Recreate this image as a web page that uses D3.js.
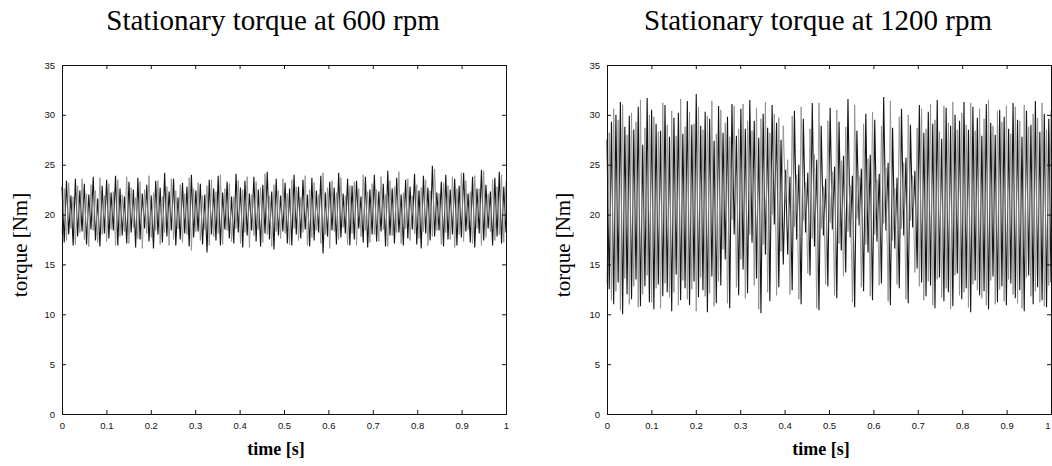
<!DOCTYPE html>
<html>
<head>
<meta charset="utf-8">
<script src="https://cdn.jsdelivr.net/npm/d3@7"></script>
<style>
  body { margin: 0; background: #fff; }
  .tick text { font-family: "Liberation Sans", Arial, sans-serif; font-size: 9.5px; fill: #111; }
  .tick line { stroke: #111; }
</style>
</head>
<body>
<div id="chart"></div>
<script>
// torque samples, 600 rpm (dark trace)
const torque600 = [
  22.8,17.2,23.4,18.0,21.9,16.9,23.6,17.8,22.4,18.3,23.1,17.0,22.0,18.5,23.8,17.4,21.6,16.8,22.9,18.1,
  23.5,17.6,22.2,18.4,23.9,16.9,22.6,17.9,21.8,17.1,23.3,18.2,22.5,16.7,23.7,17.5,22.1,18.6,23.0,17.3,
  21.9,16.6,23.4,18.0,22.7,17.2,24.2,17.8,22.3,18.4,23.6,16.9,21.7,17.5,23.2,18.1,22.8,16.8,24.0,17.7,
  22.4,18.3,23.1,17.0,22.0,16.2,23.5,18.0,22.6,17.4,23.9,16.9,22.2,18.5,23.3,17.6,21.8,17.1,24.1,18.2,
  22.7,16.7,23.4,17.9,22.1,18.4,23.8,17.3,22.5,16.8,23.0,18.1,24.3,17.5,22.3,16.5,23.6,17.9,21.9,18.3,
  23.2,17.1,22.6,16.9,24.0,18.0,22.8,17.6,23.5,18.5,22.0,16.8,23.7,17.4,22.4,18.2,23.9,16.1,22.2,17.8,
  23.3,18.4,22.7,17.0,24.2,17.7,22.1,18.1,23.6,16.9,22.9,17.5,23.4,18.6,21.8,17.2,23.8,16.7,22.5,18.0,
  24.0,17.3,22.3,18.3,23.1,16.8,24.4,17.9,22.6,17.1,23.7,18.2,22.0,16.9,23.5,17.6,22.8,18.5,24.1,17.0,
  22.4,16.6,23.9,18.1,22.7,17.4,24.9,17.8,22.2,18.4,23.3,16.8,24.0,17.5,22.5,18.0,23.6,16.9,22.9,17.7,
  24.2,18.3,22.1,17.2,23.8,16.7,22.6,18.1,24.5,17.4,23.0,18.6,22.3,16.9,23.7,17.8,24.3,17.1,22.8,18.2
];

// 600 rpm (grey trace)
const torque600b = [
  18.1,22.6,17.4,23.2,18.6,21.8,17.0,22.9,18.2,23.6,17.5,22.1,16.8,23.0,18.4,22.4,17.2,23.7,18.0,21.9,
  17.3,23.1,18.5,22.3,16.9,23.5,17.8,22.0,18.3,23.8,17.1,22.7,18.7,21.7,17.6,23.3,16.6,22.5,18.1,23.9,
  17.7,22.2,18.4,23.4,17.0,21.8,18.2,22.8,16.9,23.6,17.5,22.4,18.6,23.0,17.2,22.1,18.0,23.7,16.4,22.6,
  18.3,23.2,17.4,21.9,18.5,22.9,16.9,23.5,17.8,22.3,18.1,24.0,17.0,22.6,18.4,23.1,17.3,21.8,18.6,23.4,
  17.1,22.5,18.2,23.8,16.7,22.0,17.9,23.3,18.5,22.7,17.2,24.1,18.0,21.9,16.8,23.0,18.3,22.4,17.6,23.6,
  18.1,22.1,17.0,23.5,18.6,22.8,17.4,21.7,18.2,23.9,16.9,22.5,17.7,23.2,18.4,22.0,17.1,24.2,18.0,22.7,
  16.6,23.4,18.3,22.2,17.5,23.7,18.7,21.9,17.0,22.9,18.1,23.3,16.9,22.6,17.8,24.0,18.4,22.3,17.2,23.1,
  18.0,22.5,17.3,23.8,18.5,22.0,16.8,23.4,17.9,22.8,18.2,24.3,17.1,22.2,18.6,23.6,17.4,21.9,18.1,23.0,
  17.6,22.7,18.3,23.5,16.9,22.4,17.8,24.6,18.4,22.1,17.0,23.2,18.2,22.9,17.5,23.8,16.7,22.6,18.0,24.2,
  17.3,23.4,18.5,22.3,17.1,23.9,18.6,22.6,16.9,24.4,17.7,22.1,18.3,23.5,17.4,22.8,18.0,24.0,17.2,23.3
];

// torque samples, 1200 rpm (dark trace)
const torque1200 = [
  27.5,12.5,29.3,11.0,30.0,13.2,31.3,10.0,28.8,12.0,29.9,11.5,28.5,13.5,30.8,10.8,27.0,12.8,31.7,11.2,
  30.5,10.5,29.1,13.0,28.4,11.8,31.0,12.2,27.8,10.3,29.7,14.0,30.2,11.4,28.1,12.6,31.4,10.9,29.0,13.3,
  32.1,11.7,28.9,12.4,30.3,10.2,29.6,13.8,27.4,11.1,30.9,12.9,28.2,15.5,29.8,10.6,31.1,18.0,27.9,11.9,
  30.6,14.5,28.6,12.1,31.5,17.2,29.4,13.6,27.7,10.1,30.1,16.0,28.7,11.3,31.0,19.0,29.2,12.7,27.5,15.0,
  24.5,16.0,23.8,12.4,30.4,17.5,25.0,11.0,29.6,18.2,24.2,13.9,31.2,16.8,25.5,10.4,28.9,17.9,23.6,12.8,
  30.7,18.5,24.8,11.6,29.3,16.4,25.9,14.2,31.6,17.7,23.9,10.7,28.4,18.9,24.6,12.3,30.1,16.2,26.0,11.4,
  29.5,17.3,24.1,13.1,31.8,18.4,25.2,10.9,28.7,16.6,23.7,12.6,30.6,17.9,25.7,11.1,29.0,18.7,24.4,14.6,
  31.0,13.2,28.2,11.8,30.3,12.9,29.1,10.6,31.5,13.7,27.6,11.3,30.7,12.2,28.9,10.8,30.0,14.1,29.4,11.5,
  31.3,12.6,28.5,10.2,30.8,13.4,29.7,11.9,27.9,12.3,31.1,10.5,29.2,13.8,28.0,11.2,30.5,12.8,29.8,10.9,
  28.6,13.1,31.2,11.6,29.5,12.4,27.8,10.3,30.4,13.9,29.0,11.0,31.4,12.7,28.3,11.4,30.1,10.7,29.6,13.2
];

// 1200 rpm (grey trace)
const torque1200b = [
  13.0,28.2,11.4,30.6,12.3,29.5,10.4,31.0,13.6,28.0,11.0,30.2,12.8,29.3,10.7,31.5,12.0,28.7,13.9,30.0,
  11.2,29.8,12.6,28.3,10.6,31.2,13.1,29.0,11.7,30.4,12.2,27.9,10.9,31.6,13.4,28.8,11.5,30.3,12.5,29.1,
  10.3,30.8,13.7,28.5,11.8,29.9,12.1,31.4,10.8,28.1,13.3,30.5,16.5,29.2,11.1,27.8,19.5,30.9,12.7,28.6,
  15.5,31.1,11.6,29.4,18.0,28.4,12.9,30.7,10.5,29.6,17.0,31.3,12.2,28.2,20.0,30.1,11.9,29.7,16.3,28.9,
  21.5,25.5,12.0,29.9,18.8,24.0,11.5,30.8,19.4,23.2,14.1,28.6,17.6,26.0,10.6,31.2,18.6,22.8,13.0,29.4,
  19.2,24.3,11.9,30.5,17.1,25.4,13.8,28.8,18.3,22.9,11.2,31.0,19.6,23.8,12.7,29.1,17.0,25.6,11.8,30.3,
  18.0,23.5,12.9,28.9,19.1,24.7,11.3,31.4,17.4,22.6,13.0,29.8,18.6,25.2,11.5,30.0,19.4,23.9,14.2,28.7,
  12.8,30.6,11.4,28.6,13.3,31.1,10.9,29.5,13.5,28.3,11.7,30.9,12.6,29.2,10.5,31.3,13.9,28.5,11.9,30.2,
  12.2,29.0,10.7,31.2,13.0,28.4,12.4,30.6,11.6,29.6,10.9,31.5,13.4,28.9,11.0,30.4,12.5,29.3,11.3,30.9,
  13.5,28.1,12.0,30.8,11.1,29.4,10.6,31.0,13.7,28.8,11.8,30.1,12.3,29.7,11.2,31.2,10.8,28.5,12.9,30.4
];

const titles = ['Stationary torque at 600 rpm', 'Stationary torque at 1200 rpm'];
const xTicks = [0, 0.1, 0.2, 0.3, 0.4, 0.5, 0.6, 0.7, 0.8, 0.9, 1];
const yTicks = [0, 5, 10, 15, 20, 25, 30, 35];

const w = 1052;
const h = 466;

const svg = d3.select('#chart')
  .append('svg')
  .attr('width', w)
  .attr('height', h);

const panels = [
  { title: titles[0], dark: torque600, grey: torque600b, left: 62, right: 506, titleX: 273, labelX: 20 },
  { title: titles[1], dark: torque1200, grey: torque1200b, left: 607, right: 1051, titleX: 818, labelX: 563 }
];

const plotTop = 65;
const plotBottom = 414;
const serif = '"Liberation Serif", "Times New Roman", serif';

panels.forEach(p => {
  const x = d3.scaleLinear().domain([0, 1]).range([p.left, p.right]);
  const y = d3.scaleLinear().domain([0, 35]).range([plotBottom, plotTop]);
  const g = svg.append('g');

  // signal, dark trace then grey trace over it
  [[p.dark, '#151515', 1.1], [p.grey, '#909090', 0.9]].forEach(([data, colour, sw]) => {
    const n = data.length;
    const line = d3.line()
      .x((d, i) => x(i / (n - 1)))
      .y(d => y(d));
    g.append('path')
      .datum(data)
      .attr('d', line)
      .attr('fill', 'none')
      .attr('stroke', colour)
      .attr('stroke-width', sw);
  });

  // axes, matlab style ticks pointing inward
  g.append('g')
    .attr('transform', `translate(0, ${plotBottom})`)
    .call(d3.axisBottom(x).tickValues(xTicks).tickSize(-4).tickPadding(8)
      .tickFormat(d => d === 0 || d === 1 ? d3.format('d')(d) : d3.format('.1f')(d)))
    .call(a => a.select('.domain').attr('stroke', '#111'))
    .call(a => a.selectAll('.tick text').filter(d => d === 1 && p.right > 1040)
      .attr('text-anchor', 'end').attr('dx', -1));

  g.append('g')
    .attr('transform', `translate(0, ${plotTop})`)
    .call(d3.axisTop(x).tickValues(xTicks).tickSize(-4).tickFormat(''))
    .call(a => a.select('.domain').attr('stroke', '#111'));

  g.append('g')
    .attr('transform', `translate(${p.left}, 0)`)
    .call(d3.axisLeft(y).tickValues(yTicks).tickSize(-4).tickPadding(7))
    .call(a => a.select('.domain').attr('stroke', '#111'));

  g.append('g')
    .attr('transform', `translate(${p.right}, 0)`)
    .call(d3.axisRight(y).tickValues(yTicks).tickSize(-4).tickFormat(''))
    .call(a => a.select('.domain').attr('stroke', '#111'));

  // title
  svg.append('text')
    .attr('x', p.titleX)
    .attr('y', 30)
    .attr('text-anchor', 'middle')
    .style('font-family', serif)
    .style('font-size', '29px')
    .text(p.title);

  // axis labels
  svg.append('text')
    .attr('x', (p.left + p.right) / 2 - 8)
    .attr('y', 455)
    .attr('text-anchor', 'middle')
    .style('font-family', serif)
    .style('font-size', '18px')
    .style('font-weight', 'bold')
    .text('time [s]');

  svg.append('text')
    .attr('transform', `translate(${p.labelX}, 245) rotate(-90)`)
    .attr('text-anchor', 'middle')
    .attr('dy', '0.35em')
    .style('font-family', serif)
    .style('font-size', '21px')
    .text('torque [Nm]');
});
</script>
</body>
</html>
